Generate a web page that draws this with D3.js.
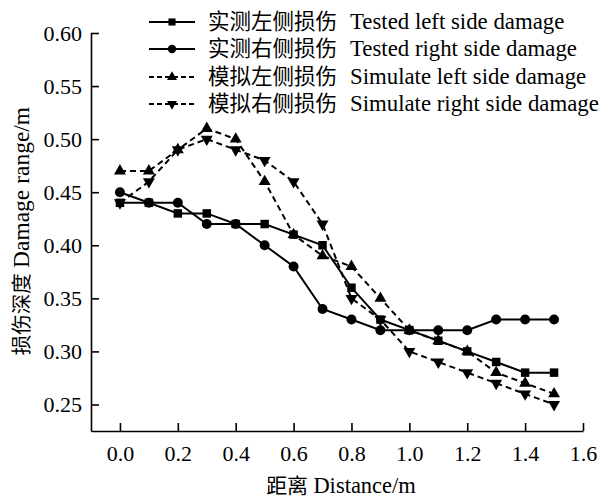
<!DOCTYPE html>
<html>
<head>
<meta charset="utf-8">
<script src="https://cdn.jsdelivr.net/npm/d3@7"></script>
<style>
  body { margin: 0; background: #fff; }
  text { font-family: "Liberation Serif", "Noto Sans CJK SC", serif; fill: #000; }
</style>
</head>
<body>
<div id="chart"></div>
<script>
"use strict"

// distance along the wall (m)
let distances = [0.0, 0.1, 0.2, 0.3, 0.4, 0.5, 0.6, 0.7, 0.8, 0.9, 1.0, 1.1, 1.2, 1.3, 1.4, 1.5];

// damage range (m) for each series
let testedLeft  = [0.44, 0.44, 0.43, 0.43, 0.42, 0.42, 0.41, 0.40, 0.36, 0.33, 0.32, 0.31, 0.30, 0.29, 0.28, 0.28];
let testedRight = [0.45, 0.44, 0.44, 0.42, 0.42, 0.40, 0.38, 0.34, 0.33, 0.32, 0.32, 0.32, 0.32, 0.33, 0.33, 0.33];
let simLeft     = [0.47, 0.47, 0.49, 0.51, 0.50, 0.46, 0.41, 0.39, 0.38, 0.35, 0.32, 0.31, 0.30, 0.28, 0.27, 0.26];
let simRight    = [0.44, 0.46, 0.49, 0.50, 0.49, 0.48, 0.46, 0.42, 0.35, 0.33, 0.30, 0.29, 0.28, 0.27, 0.26, 0.25];

let seriesCn = ["实测左侧损伤", "实测右侧损伤", "模拟左侧损伤", "模拟右侧损伤"];
let seriesEn = ["Tested left side damage", "Tested right side damage", "Simulate left side damage", "Simulate right side damage"];

let xTicks = [0.0, 0.2, 0.4, 0.6, 0.8, 1.0, 1.2, 1.4, 1.6];
let yTicks = [0.25, 0.30, 0.35, 0.40, 0.45, 0.50, 0.55, 0.60];

let series = [
    { cn: seriesCn[0], en: seriesEn[0], values: testedLeft,  symbol: d3.symbolSquare,   dashed: false, size: 72 },
    { cn: seriesCn[1], en: seriesEn[1], values: testedRight, symbol: d3.symbolCircle,   dashed: false, size: 78 },
    { cn: seriesCn[2], en: seriesEn[2], values: simLeft,     symbol: d3.symbolTriangle, dashed: true,  size: 62, flip: false },
    { cn: seriesCn[3], en: seriesEn[3], values: simRight,    symbol: d3.symbolTriangle, dashed: true,  size: 62, flip: true }
];

let width = 599;
let height = 498;

let svg = d3.select("#chart")
    .append("svg")
    .attr("width", width)
    .attr("height", height);

let x = d3.scaleLinear().domain([-0.1, 1.6]).range([91, 583]);
let y = d3.scaleLinear().domain([0.225, 0.60]).range([431, 33]);

// axes, ticks point inward
svg.append("g")
    .attr("class", "axis")
    .attr("transform", "translate(0," + y(0.225) + ")")
    .call(d3.axisBottom(x).tickValues(xTicks).tickFormat(d3.format(".1f")).tickSizeInner(-8).tickSizeOuter(0).tickPadding(14));

svg.append("g")
    .attr("class", "axis")
    .attr("transform", "translate(" + x(-0.1) + ",0)")
    .call(d3.axisLeft(y).tickValues(yTicks).tickFormat(d3.format(".2f")).tickSizeInner(-8).tickSizeOuter(0).tickPadding(9));

svg.selectAll(".axis")
    .attr("font-family", null)
    .attr("font-size", null);

svg.selectAll(".domain, .tick line")
    .attr("stroke", "#000")
    .attr("stroke-width", 1.6);

svg.selectAll(".tick text")
    .attr("font-size", 22)
    .attr("fill", "#000");

// axis titles
let xTitle = svg.append("text")
    .attr("x", 341)
    .attr("y", 493)
    .attr("text-anchor", "middle");
xTitle.append("tspan").attr("font-size", 21).text("距离 ");
xTitle.append("tspan").attr("font-size", 22.5).text("Distance/m");

let yTitle = svg.append("text")
    .attr("transform", "translate(29,231) rotate(-90)")
    .attr("text-anchor", "middle");
yTitle.append("tspan").attr("font-size", 20.5).text("损伤深度 ");
yTitle.append("tspan").attr("font-size", 23.5).text("Damage range/m");

// lines and markers
let line = d3.line()
    .x((d, i) => x(distances[i]))
    .y(d => y(d));

series.forEach(s => {
    svg.append("path")
        .datum(s.values)
        .attr("d", line)
        .attr("fill", "none")
        .attr("stroke", "#000")
        .attr("stroke-width", 2)
        .attr("stroke-dasharray", s.dashed ? "6,4" : null);

    svg.selectAll(null)
        .data(s.values)
        .enter()
        .append("path")
        .attr("d", d3.symbol().type(s.symbol).size(s.size))
        .attr("transform", (d, i) => "translate(" + x(distances[i]) + "," + y(d) + ")" + (s.flip ? " rotate(180)" : ""))
        .attr("fill", "#000");
});

// legend
let legendRowY = [22, 49, 77, 104];

series.forEach((s, i) => {
    let ly = legendRowY[i];
    svg.append("line")
        .attr("x1", 149)
        .attr("x2", 195)
        .attr("y1", ly)
        .attr("y2", ly)
        .attr("stroke", "#000")
        .attr("stroke-width", 2)
        .attr("stroke-dasharray", s.dashed ? "5,3" : null);

    svg.append("path")
        .attr("d", d3.symbol().type(s.symbol).size(s.size * 0.7))
        .attr("transform", "translate(172," + ly + ")" + (s.flip ? " rotate(180)" : ""))
        .attr("fill", "#000");

    let label = svg.append("text")
        .attr("x", 208)
        .attr("y", ly + 7)
        .attr("font-size", 21.5);
    label.append("tspan").text(s.cn);
    label.append("tspan").attr("dx", 13).attr("font-size", 22.8).text(s.en);
});
</script>
</body>
</html>
